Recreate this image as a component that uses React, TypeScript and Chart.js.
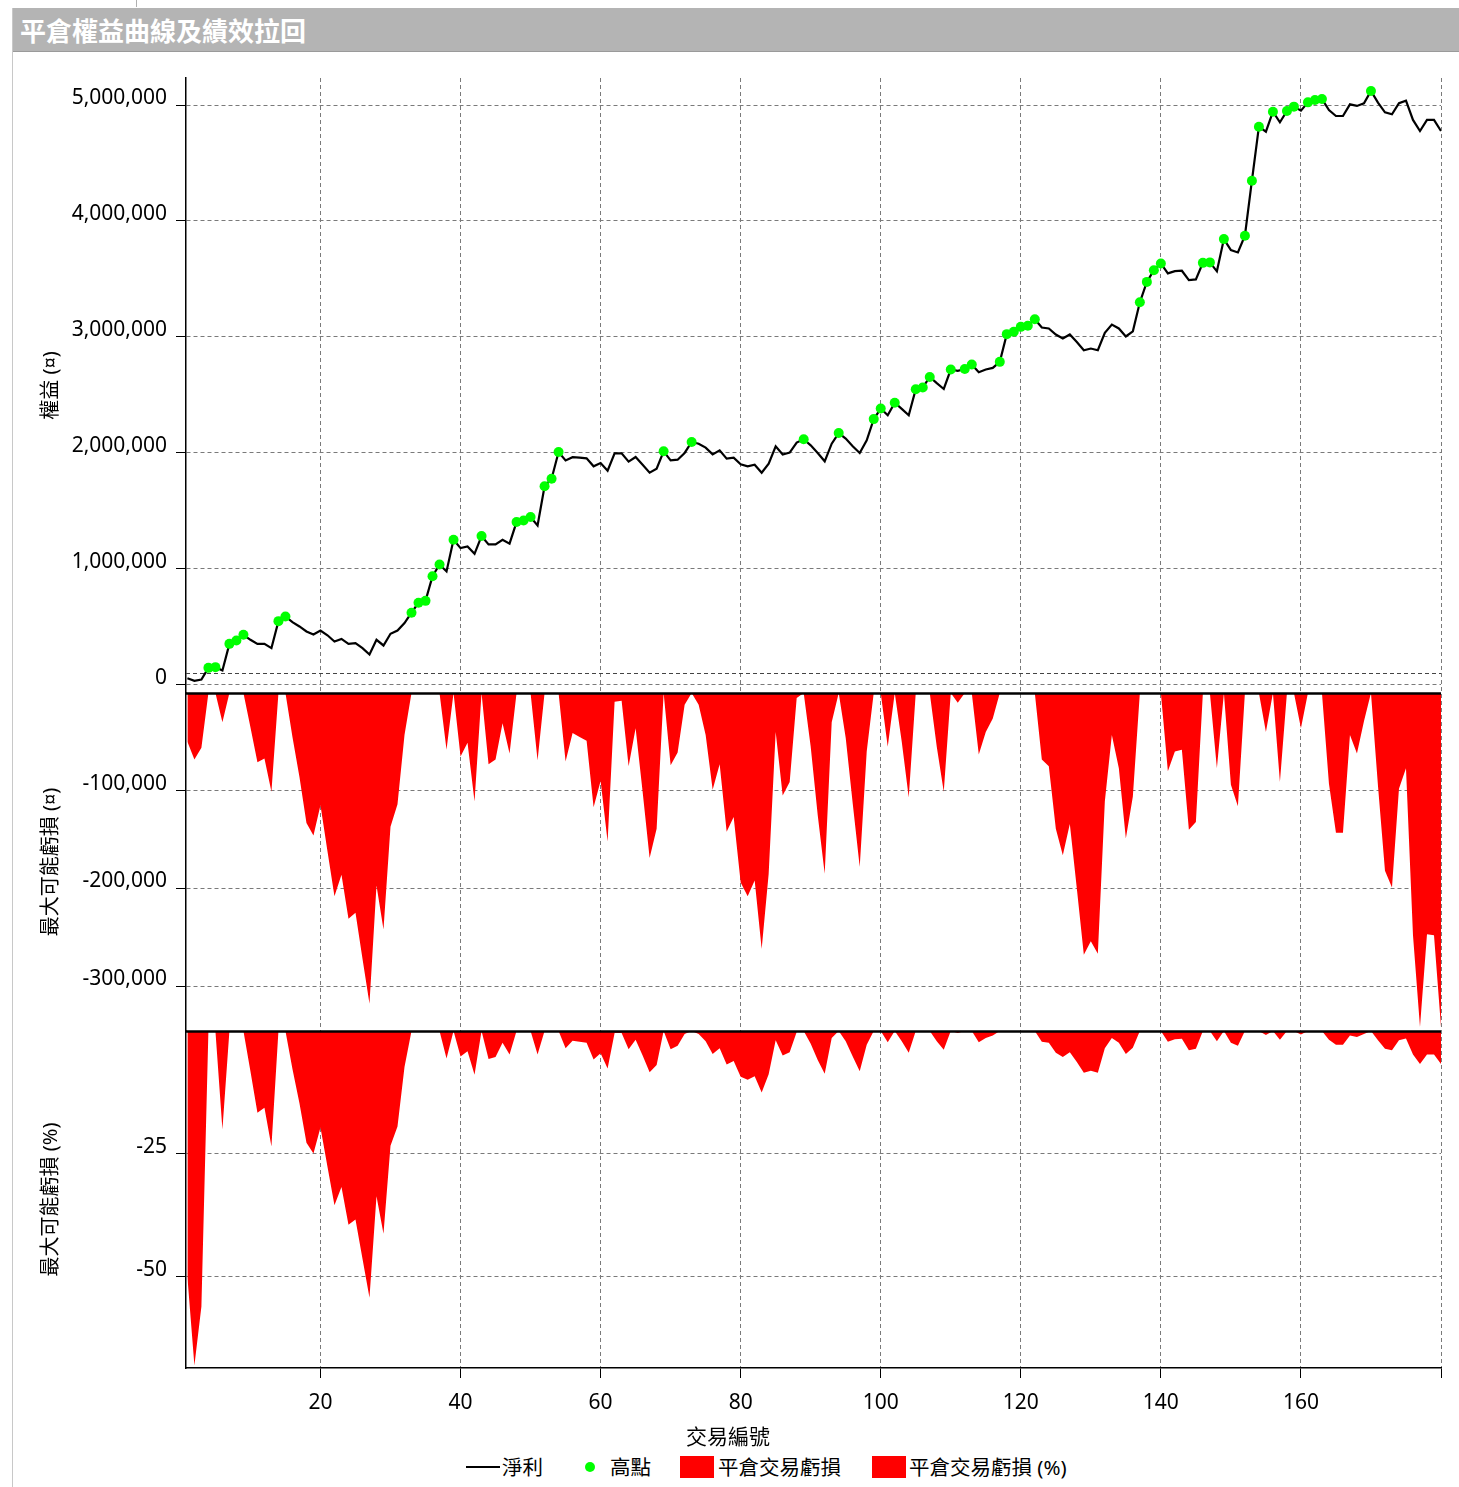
import React, { useEffect, useRef } from 'react';
import { Chart, registerables } from 'chart.js';

Chart.register(...registerables);

const FONT_FAMILY = "'Segoe UI', 'Noto Sans', 'Noto Sans CJK TC', sans-serif";

// 淨利 (closed equity) per trade, trades 1..180
const equity: number[] = [
  54000, 32000, 43000, 144000, 150000, 121000, 351000, 380000, 429000, 386000,
  351000, 351000, 314000, 547000, 587000, 538000, 501000, 458000, 432000, 466000,
  425000, 371000, 394000, 351000, 357000, 314000, 259000, 386000, 337000, 438000,
  466000, 530000, 620000, 705000, 722000, 935000, 1036000, 976000, 1249000, 1177000,
  1192000, 1128000, 1281000, 1209000, 1209000, 1249000, 1215000, 1402000, 1416000, 1445000,
  1373000, 1710000, 1776000, 2006000, 1934000, 1962000, 1958000, 1952000, 1883000, 1911000,
  1845000, 1995000, 1995000, 1923000, 1963000, 1897000, 1828000, 1862000, 2012000, 1934000,
  1940000, 1998000, 2093000, 2078000, 2044000, 1986000, 2021000, 1949000, 1958000, 1900000,
  1883000, 1897000, 1828000, 1906000, 2055000, 1984000, 2001000, 2088000, 2116000, 2064000,
  1998000, 1926000, 2078000, 2170000, 2122000, 2055000, 1998000, 2107000, 2290000, 2381000,
  2323000, 2431000, 2378000, 2323000, 2548000, 2562000, 2654000, 2600000, 2550000, 2718000,
  2706000, 2722000, 2761000, 2695000, 2718000, 2732000, 2784000, 3023000, 3043000, 3086000,
  3095000, 3152000, 3080000, 3072000, 3020000, 2985000, 3020000, 2956000, 2884000, 2899000,
  2884000, 3035000, 3106000, 3072000, 3003000, 3047000, 3298000, 3474000, 3575000, 3633000,
  3547000, 3567000, 3570000, 3489000, 3495000, 3638000, 3642000, 3565000, 3843000, 3748000,
  3728000, 3872000, 4347000, 4813000, 4770000, 4942000, 4851000, 4948000, 4986000, 4951000,
  5023000, 5043000, 5052000, 4957000, 4905000, 4905000, 5006000, 4992000, 5015000, 5121000,
  5020000, 4937000, 4920000, 5015000, 5037000, 4871000, 4776000, 4871000, 4871000, 4776000,
];

// 高點 (new equity highs), trade numbers
const highTrades: number[] = [
  4, 5, 7, 8, 9, 14, 15, 33, 34, 35, 36, 37, 39, 43, 48, 49, 50, 52, 53, 54,
  69, 73, 89, 94, 99, 100, 102, 105, 106, 107, 110, 112, 113, 117, 118, 119, 120, 121, 122,
  137, 138, 139, 140, 146, 147, 149, 152, 153, 154, 156, 158, 159, 161, 162, 163, 170,
];

// 平倉交易虧損 (¤)
const drawdown: number[] = [
  -50000, -68000, -56000, 0, 0, -30000, 0, 0, 0, -35000,
  -71000, -67000, -101000, 0, 0, -45000, -86000, -133000, -146000, -115000,
  -162000, -208000, -186000, -231000, -225000, -272000, -318000, -197000, -242000, -137000,
  -114000, -43000, 0, 0, 0, 0, 0, -58000, 0, -65000,
  -51000, -111000, 0, -73000, -68000, -31000, -62000, 0, 0, 0,
  -69000, 0, 0, 0, -70000, -41000, -45000, -49000, -117000, -90000,
  -152000, -9000, -8000, -75000, -36000, -101000, -169000, -139000, 0, -74000,
  -61000, -12000, 0, -12000, -43000, -99000, -73000, -142000, -127000, -194000,
  -208000, -192000, -262000, -185000, -40000, -105000, -91000, -5000, 0, -55000,
  -125000, -185000, -30000, 0, -46000, -113000, -178000, -60000, 0, 0,
  -55000, 0, -50000, -107000, 0, 0, 0, -55000, -101000, 0,
  -10000, 0, 0, -63000, -40000, -26000, 0, 0, 0, 0,
  0, 0, -68000, -75000, -139000, -166000, -134000, -200000, -268000, -254000,
  -267000, -111000, -43000, -77000, -149000, -106000, 0, 0, 0, 0,
  -80000, -60000, -58000, -140000, -132000, 0, 0, -77000, 0, -94000,
  -116000, 0, 0, 0, -40000, 0, -91000, 0, 0, -36000,
  0, 0, 0, -93000, -143000, -143000, -43000, -62000, -29000, 0,
  -95000, -182000, -199000, -98000, -77000, -248000, -342000, -247000, -248000, -342000,
];

// 平倉交易虧損 (%)
const drawdownPct: number[] = [
  -50, -68, -56, 0, 0, -20, 0, 0, 0, -8.2,
  -16.6, -15.6, -23.5, 0, 0, -7.7, -14.7, -22.7, -24.9, -19.6,
  -27.6, -35.4, -31.7, -39.4, -38.3, -46.3, -54.2, -33.6, -41.2, -23.3,
  -19.4, -7.3, 0, 0, 0, 0, 0, -5.6, 0, -5.2,
  -4.1, -8.9, 0, -5.7, -5.3, -2.4, -4.8, 0, 0, 0,
  -4.8, 0, 0, 0, -3.5, -2.0, -2.2, -2.4, -5.8, -4.5,
  -7.6, -0.4, -0.4, -3.7, -1.8, -5.0, -8.4, -6.9, 0, -3.7,
  -3.0, -0.6, 0, -0.6, -2.1, -4.7, -3.5, -6.8, -6.1, -9.3,
  -9.9, -9.2, -12.5, -8.8, -1.9, -5.0, -4.3, -0.2, 0, -2.6,
  -5.9, -8.7, -1.4, 0, -2.1, -5.2, -8.2, -2.8, 0, 0,
  -2.3, 0, -2.1, -4.4, 0, 0, 0, -2.1, -3.8, 0,
  -0.4, 0, 0, -2.3, -1.4, -0.9, 0, 0, 0, 0,
  0, 0, -2.2, -2.4, -4.4, -5.3, -4.3, -6.3, -8.5, -8.1,
  -8.5, -3.5, -1.4, -2.4, -4.7, -3.4, 0, 0, 0, 0,
  -2.2, -1.7, -1.6, -3.9, -3.6, 0, 0, -2.1, 0, -2.4,
  -3.0, 0, 0, 0, -0.8, 0, -1.8, 0, 0, -0.7,
  0, 0, 0, -1.8, -2.8, -2.8, -0.9, -1.2, -0.6, 0,
  -1.9, -3.6, -3.9, -1.9, -1.5, -4.8, -6.7, -4.8, -4.8, -6.7,
];

const equityTicks = [0, 1000000, 2000000, 3000000, 4000000, 5000000];
const drawdownTicks = [-300000, -200000, -100000];
const pctTicks = [-50, -25];
const tradeTicks = [20, 40, 60, 80, 100, 120, 140, 160, 180];
const tradeTickLabels = ['20', '40', '60', '80', '100', '120', '140', '160', ''];
const startingEquity = 100000;

const TITLE = '平倉權益曲線及績效拉回';
const X_TITLE = '交易編號';
const Y_TITLES = ['權益 (¤)', '最大可能虧損 (¤)', '最大可能虧損 (%)'];
const SERIES_NAMES = ['淨利', '高點', '平倉交易虧損', '平倉交易虧損 (%)'];

const GRID_COLOR = '#7a7a7a';

function yAxis(weight: number, min: number, max: number, ticks: number[], title: string) {
  return {
    type: 'linear',
    position: 'left',
    stack: 'panels',
    stackWeight: weight,
    min,
    max,
    afterBuildTicks: (s: any) => {
      s.ticks = ticks.map((v) => ({ value: v }));
    },
    afterFit: (s: any) => {
      s.width = 173;
    },
    ticks: {
      font: { family: FONT_FAMILY, size: 21 },
      color: '#000',
      padding: 9,
      labelOffset: -7,
      callback: (v: any) => Number(v).toLocaleString('en-US'),
    },
    grid: {
      color: GRID_COLOR,
      lineWidth: 1,
      tickLength: 10,
      tickColor: '#000',
      tickWidth: 1,
      tickBorderDash: [],
    },
    border: { color: '#000', width: 1.5, dash: [4, 3] },
    title: {
      display: true,
      text: title,
      font: { family: FONT_FAMILY, size: 20 },
      color: '#000',
      padding: { top: 26, bottom: 0 },
    },
  };
}

const panelPlugin = {
  id: 'panelLines',
  beforeDatasetsDraw(chart: any) {
    const { ctx, chartArea } = chart;
    const y = Math.round(chart.scales.y.getPixelForValue(startingEquity)) + 0.5;
    ctx.save();
    ctx.strokeStyle = '#444';
    ctx.lineWidth = 1;
    ctx.setLineDash([4, 3]);
    ctx.beginPath();
    ctx.moveTo(chartArea.left, y);
    ctx.lineTo(chartArea.right, y);
    ctx.stroke();
    ctx.restore();
  },
  afterDatasetsDraw(chart: any) {
    const { ctx, chartArea } = chart;
    const ys = [chart.scales.y2.top, chart.scales.y3.top];
    ctx.save();
    ctx.strokeStyle = '#000';
    ctx.lineWidth = 2.5;
    ys.forEach((yy: number) => {
      const y = Math.round(yy) + 0.5;
      ctx.beginPath();
      ctx.moveTo(chartArea.left, y);
      ctx.lineTo(chartArea.right, y);
      ctx.stroke();
    });
    ctx.restore();
  },
};

export default function App() {
  const ref = useRef<HTMLCanvasElement>(null);

  useEffect(() => {
    const canvas = ref.current;
    if (!canvas) return;
    const chart = new Chart(canvas, {
      type: 'line',
      data: {
        datasets: [
          {
            label: SERIES_NAMES[1],
            data: highTrades.map((t) => ({ x: t, y: equity[t - 1] })),
            yAxisID: 'y',
            showLine: false,
            pointRadius: 5,
            pointHoverRadius: 5,
            pointBackgroundColor: '#00ff00',
            pointBorderColor: '#00ff00',
            pointBorderWidth: 0,
            order: 0,
          },
          {
            label: SERIES_NAMES[0],
            data: equity.map((v, i) => ({ x: i + 1, y: v })),
            yAxisID: 'y',
            borderColor: '#000',
            borderWidth: 2.2,
            pointRadius: 0,
            fill: false,
            tension: 0,
            order: 1,
          },
          {
            label: SERIES_NAMES[2],
            data: drawdown.map((v, i) => ({ x: i + 1, y: v })),
            yAxisID: 'y2',
            borderWidth: 0,
            borderColor: 'rgba(0,0,0,0)',
            backgroundColor: '#ff0000',
            pointRadius: 0,
            fill: 'origin',
            order: 2,
          },
          {
            label: SERIES_NAMES[3],
            data: drawdownPct.map((v, i) => ({ x: i + 1, y: v })),
            yAxisID: 'y3',
            borderWidth: 0,
            borderColor: 'rgba(0,0,0,0)',
            backgroundColor: '#ff0000',
            pointRadius: 0,
            fill: 'origin',
            order: 3,
          },
        ],
      } as any,
      options: {
        animation: false,
        responsive: false,
        maintainAspectRatio: false,
        events: [],
        layout: { padding: { left: 0, right: 18, top: 25, bottom: 0 } },
        plugins: {
          legend: { display: false },
          tooltip: { enabled: false },
        },
        scales: {
          x: {
            type: 'linear',
            min: 0.8,
            max: 180,
            afterBuildTicks: (s: any) => {
              s.ticks = tradeTicks.map((v) => ({ value: v }));
            },
            afterFit: (s: any) => {
              s.height = 85;
            },
            ticks: {
              font: { family: FONT_FAMILY, size: 21 },
              color: '#000',
              padding: 12,
              maxRotation: 0,
              autoSkip: false,
              callback: (v: any) => {
                const idx = tradeTicks.indexOf(Number(v));
                return idx >= 0 ? tradeTickLabels[idx] : '';
              },
            },
            grid: {
              color: GRID_COLOR,
              lineWidth: 1,
              tickLength: 10,
              tickColor: '#000',
              tickWidth: 1,
              tickBorderDash: [],
            },
            border: { color: '#000', width: 1.5, dash: [4, 3] },
            title: { display: false },
          },
          // stacked panels are laid out bottom-up in definition order
          y3: yAxis(337, -68.5, 0, pctTicks, Y_TITLES[2]),
          y2: yAxis(338, -346000, 0, drawdownTicks, Y_TITLES[1]),
          y: yAxis(615, -73000, 5233000, equityTicks, Y_TITLES[0]),
        } as any,
      },
      plugins: [panelPlugin],
    });
    return () => chart.destroy();
  }, []);

  const legendText: React.CSSProperties = {
    position: 'absolute',
    top: 1455,
    height: 24,
    lineHeight: '24px',
    fontSize: 20.5,
    color: '#000',
    whiteSpace: 'nowrap',
  };

  return (
    <div
      style={{
        position: 'fixed',
        left: 0,
        top: 0,
        width: 1459,
        height: 1487,
        background: '#fff',
        overflow: 'hidden',
        fontFamily: FONT_FAMILY,
      }}
    >
      <div style={{ position: 'absolute', left: 136, top: 0, width: 1, height: 7, background: '#b0b0b0' }} />
      <div style={{ position: 'absolute', left: 12, top: 8, width: 1, bottom: 0, background: '#c8c8c8' }} />
      <div
        style={{
          position: 'absolute',
          left: 13,
          top: 8,
          right: 0,
          height: 44,
          background: '#b4b4b4',
          borderBottom: '1px solid #9a9a9a',
          color: '#fff',
          fontSize: 26,
          fontWeight: 700,
          lineHeight: '46px',
          paddingLeft: 7,
          boxSizing: 'border-box',
          whiteSpace: 'nowrap',
        }}
      >
        {TITLE}
      </div>
      <canvas
        ref={ref}
        width={1446}
        height={1400}
        style={{ position: 'absolute', left: 13, top: 53, width: 1446, height: 1400 }}
      />
      <div
        style={{
          position: 'absolute',
          left: 628,
          width: 200,
          top: 1423,
          height: 26,
          lineHeight: '26px',
          textAlign: 'center',
          fontSize: 21,
          color: '#000',
        }}
      >
        {X_TITLE}
      </div>
      <div style={{ position: 'absolute', left: 466, top: 1466, width: 34, height: 2, background: '#000' }} />
      <div style={{ ...legendText, left: 502 }}>{SERIES_NAMES[0]}</div>
      <div
        style={{
          position: 'absolute',
          left: 585,
          top: 1462,
          width: 10,
          height: 10,
          borderRadius: 5,
          background: '#00ff00',
        }}
      />
      <div style={{ ...legendText, left: 610 }}>{SERIES_NAMES[1]}</div>
      <div style={{ position: 'absolute', left: 680, top: 1456, width: 34, height: 22, background: '#ff0000' }} />
      <div style={{ ...legendText, left: 718 }}>{SERIES_NAMES[2]}</div>
      <div style={{ position: 'absolute', left: 872, top: 1456, width: 34, height: 22, background: '#ff0000' }} />
      <div style={{ ...legendText, left: 909 }}>{SERIES_NAMES[3]}</div>
    </div>
  );
}
